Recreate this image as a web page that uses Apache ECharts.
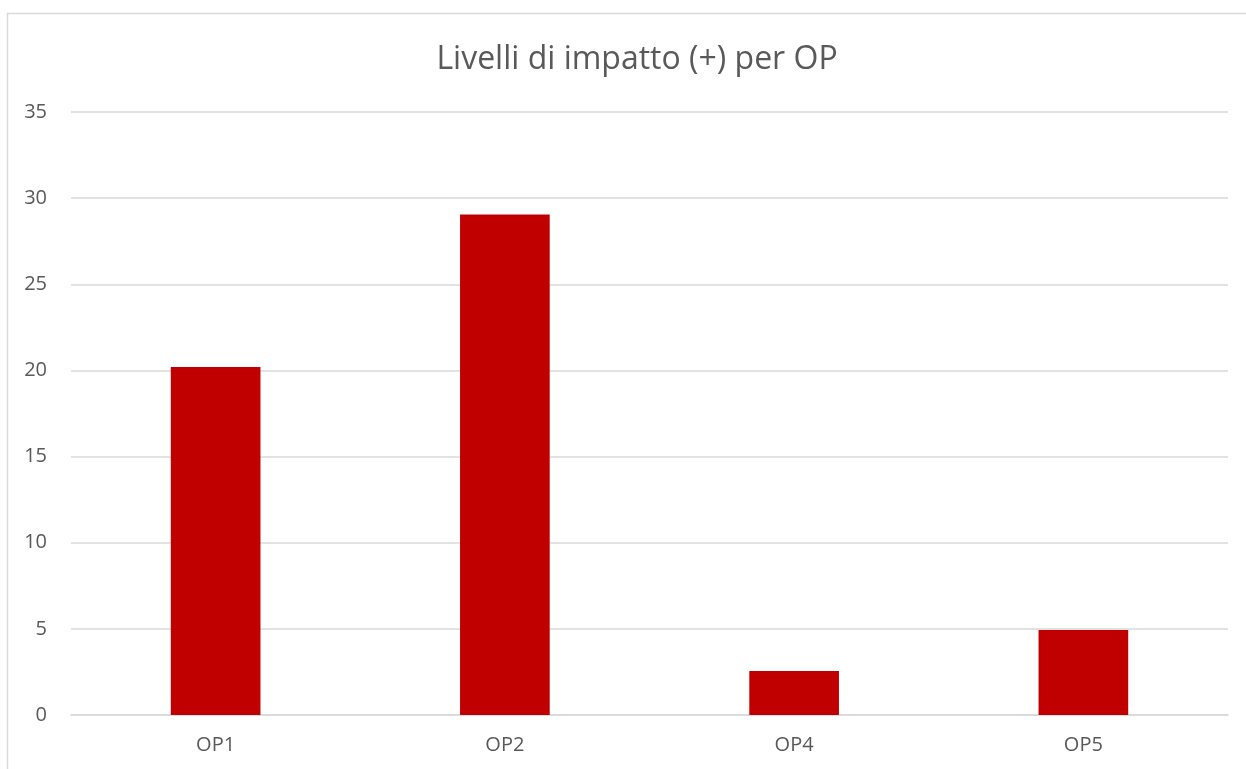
<!DOCTYPE html>
<html><head><meta charset="utf-8">
<script src="https://cdn.jsdelivr.net/npm/echarts@6/dist/echarts.min.js"></script>
<style>html,body{margin:0;padding:0;background:#fff}#c{width:1246px;height:769px}</style>
</head><body><div id="c"></div>
<script>
const categories = ['OP1', 'OP2', 'OP4', 'OP5'];
const values = [20.2, 29.05, 2.55, 4.93];
const yTicks = [0, 5, 10, 15, 20, 25, 30, 35];
const titleText = 'Livelli di impatto (+) per OP';

const chart = echarts.init(document.getElementById('c'), null, {renderer: 'canvas'});
chart.setOption({
  backgroundColor: '#fff',
  animation: false,
  title: {
    text: titleText, left: 632, textAlign: 'center', top: 39,
    textStyle: {fontFamily: 'Open Sans', fontSize: 32, fontWeight: 'normal', color: '#595959'}
  },
  graphic: [{
    type: 'rect', shape: {x: 7.5, y: 13.5, width: 1260, height: 780},
    style: {fill: 'none', stroke: '#d9d9d9', lineWidth: 1.5}, silent: true, z: -1
  }],
  grid: {left: 71, right: 18, top: 112, bottom: 54, containLabel: false},
  xAxis: {
    type: 'category', data: categories,
    axisLine: {show: true, lineStyle: {color: '#d9d9d9', width: 1.5}},
    axisTick: {show: false},
    axisLabel: {color: '#595959', fontFamily: 'Open Sans', fontSize: 20, margin: 20}
  },
  yAxis: {
    type: 'value', min: yTicks[0], max: yTicks[yTicks.length - 1], interval: 5,
    axisLine: {show: false}, axisTick: {show: false},
    splitLine: {lineStyle: {color: '#d9d9d9', width: 1.5}},
    axisLabel: {color: '#595959', fontFamily: 'Open Sans', fontSize: 20, margin: 24}
  },
  series: [{
    type: 'bar', data: values, barWidth: '31%',
    itemStyle: {color: '#c00000'}
  }]
});
</script></body></html>
